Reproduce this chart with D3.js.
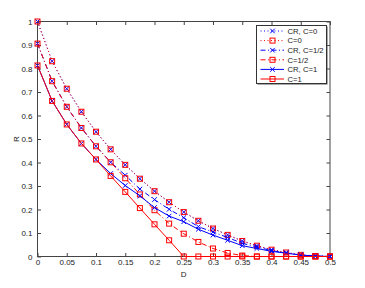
<!DOCTYPE html>
<html>
<head>
<meta charset="utf-8">
<script src="https://cdn.jsdelivr.net/npm/d3@7/dist/d3.min.js"></script>
<style>
body { margin:0; background:#fff; }
svg { display:block; font-family:"Liberation Sans", Arial, sans-serif; }
</style>
</head>
<body>
<svg width="365" height="288"></svg>
<script>
// distortion values D
var D = [0, 0.025, 0.05, 0.075, 0.1, 0.125, 0.15, 0.175, 0.2, 0.225, 0.25,
         0.275, 0.3, 0.325, 0.35, 0.375, 0.4, 0.425, 0.45, 0.475, 0.5];

// rates
var crC0  = [1, 0.831, 0.714, 0.616, 0.531, 0.456, 0.390, 0.331, 0.278, 0.231, 0.189,
             0.152, 0.119, 0.092, 0.066, 0.046, 0.029, 0.017, 0.007, 0.002, 0];
var rC0   = [1, 0.831, 0.714, 0.616, 0.531, 0.456, 0.390, 0.331, 0.278, 0.231, 0.189,
             0.152, 0.119, 0.092, 0.066, 0.046, 0.029, 0.017, 0.007, 0.002, 0];
var crC12 = [0.906, 0.746, 0.637, 0.547, 0.469, 0.401, 0.346, 0.287, 0.242, 0.201, 0.165,
             0.127, 0.104, 0.081, 0.056, 0.041, 0.025, 0.015, 0.007, 0.002, 0];
var rC12  = [0.906, 0.746, 0.637, 0.547, 0.469, 0.401, 0.333, 0.264, 0.197, 0.140, 0.097,
             0.062, 0.034, 0.015, 0.004, 0, 0, 0, 0, 0, 0];
var crC1  = [0.813, 0.662, 0.562, 0.481, 0.413, 0.353, 0.302, 0.258, 0.208, 0.172, 0.148,
             0.116, 0.091, 0.069, 0.046, 0.034, 0.022, 0.014, 0.006, 0.002, 0];
var rC1   = [0.813, 0.662, 0.562, 0.481, 0.413, 0.343, 0.275, 0.206, 0.137, 0.069, 0,
             0, 0, 0, 0, 0, 0, 0, 0, 0, 0];

var xTicks = [0, 0.05, 0.1, 0.15, 0.2, 0.25, 0.3, 0.35, 0.4, 0.45, 0.5];
var yTicks = [0, 0.1, 0.2, 0.3, 0.4, 0.5, 0.6, 0.7, 0.8, 0.9, 1];

var legendNames = ["CR, C=0", "C=0", "CR, C=1/2", "C=1/2", "CR, C=1", "C=1"];

var svg = d3.select("svg");
var margin = {top:21.5, right:35, bottom:31.5, left:37.5};
var width = +svg.attr("width") - margin.left - margin.right;
var height = +svg.attr("height") - margin.top - margin.bottom;

var g = svg.append("g")
           .attr("transform", "translate(" + margin.left + "," + margin.top + ")");

var x = d3.scaleLinear().domain([0, 0.5]).range([0, width]);
var y = d3.scaleLinear().domain([0, 1]).range([height, 0]);

var blue = "#0000ff", red = "#ff0000";
var dotted = "1,2.5", dashdot = "5,2.5,1,2.5";

var series = [
  {vals: crC0,  color: blue, dash: dotted,  mark: "x"},
  {vals: rC0,   color: red,  dash: dotted,  mark: "s"},
  {vals: crC12, color: blue, dash: dashdot, mark: "x"},
  {vals: rC12,  color: red,  dash: dashdot, mark: "s"},
  {vals: crC1,  color: blue, dash: null,    mark: "x"},
  {vals: rC1,   color: red,  dash: null,    mark: "s"}
];

// axes box with inward ticks on all sides
var axisColor = "#444";
function styleAxis(sel) {
  sel.select(".domain").remove();
  sel.selectAll("line").attr("stroke", axisColor);
  sel.selectAll("text").attr("fill", "#222").style("font-size", "8px");
}
g.append("g")
  .attr("transform", "translate(0," + height + ")")
  .call(d3.axisBottom(x).tickValues(xTicks).tickSize(-3.5).tickPadding(3)
          .tickFormat(function(d){ return String(d); }))
  .call(styleAxis);
g.append("g")
  .call(d3.axisTop(x).tickValues(xTicks).tickSize(-3.5).tickFormat(""))
  .call(styleAxis);
g.append("g")
  .call(d3.axisLeft(y).tickValues(yTicks).tickSize(-3.5).tickPadding(5)
          .tickFormat(function(d){ return String(d); }))
  .call(styleAxis);
g.append("g")
  .attr("transform", "translate(" + width + ",0)")
  .call(d3.axisRight(y).tickValues(yTicks).tickSize(-3.5).tickFormat(""))
  .call(styleAxis);
g.append("rect")
  .attr("width", width).attr("height", height)
  .attr("fill", "none").attr("stroke", axisColor).attr("stroke-width", 1);

// axis labels
g.append("text")
  .attr("x", width / 2).attr("y", height + 20)
  .attr("text-anchor", "middle").style("font-size", "8px").attr("fill", "#222")
  .text("D");
g.append("text")
  .attr("transform", "translate(" + (-19) + "," + (height / 2) + ") rotate(-90)")
  .attr("text-anchor", "middle").style("font-size", "8px").attr("fill", "#222")
  .text("R");

var line = d3.line()
             .x(function(d, i) { return x(D[i]); })
             .y(function(d) { return y(d); });

function drawMark(sel, kind, color) {
  if (kind === "s") {
    sel.append("rect")
      .attr("x", -2.5).attr("y", -2.5).attr("width", 5).attr("height", 5)
      .attr("fill", "none").attr("stroke", color).attr("stroke-width", 1);
  } else {
    sel.append("path")
      .attr("d", "M-2.3,-2.3L2.3,2.3M-2.3,2.3L2.3,-2.3")
      .attr("fill", "none").attr("stroke", color).attr("stroke-width", 1);
  }
}

series.forEach(function(s) {
  g.append("path")
    .datum(s.vals)
    .attr("fill", "none")
    .attr("stroke", s.color)
    .attr("stroke-width", 1)
    .attr("stroke-dasharray", s.dash)
    .attr("d", line);

  g.append("g").selectAll("g")
    .data(s.vals)
    .enter().append("g")
    .attr("transform", function(d, i) { return "translate(" + x(D[i]) + "," + y(d) + ")"; })
    .each(function() { drawMark(d3.select(this), s.mark, s.color); });
});

// legend
var lg = svg.append("g").attr("transform", "translate(256.5,25.5)");
lg.append("rect")
  .attr("x", 1).attr("y", 1).attr("width", 70).attr("height", 58)
  .attr("fill", "#555");
lg.append("rect")
  .attr("width", 70).attr("height", 58)
  .attr("fill", "#fff").attr("stroke", "#333").attr("stroke-width", 1);

var items = lg.selectAll(".item")
  .data(series)
  .enter().append("g")
  .attr("class", "item")
  .attr("transform", function(d, i) { return "translate(0," + (5.5 + 9.6 * i) + ")"; });

items.append("line")
  .attr("x1", 4).attr("x2", 27.5)
  .attr("stroke", function(d) { return d.color; })
  .attr("stroke-width", 1)
  .attr("stroke-dasharray", function(d) { return d.dash; });
items.each(function(d) {
  var m = d3.select(this).append("g").attr("transform", "translate(16,0)");
  drawMark(m, d.mark, d.color);
});
items.append("text")
  .attr("x", 31).attr("y", 0)
  .attr("dy", "0.35em")
  .style("font-size", "7.7px")
  .attr("fill", "#222")
  .text(function(d, i) { return legendNames[i]; });
</script>
</body>
</html>
